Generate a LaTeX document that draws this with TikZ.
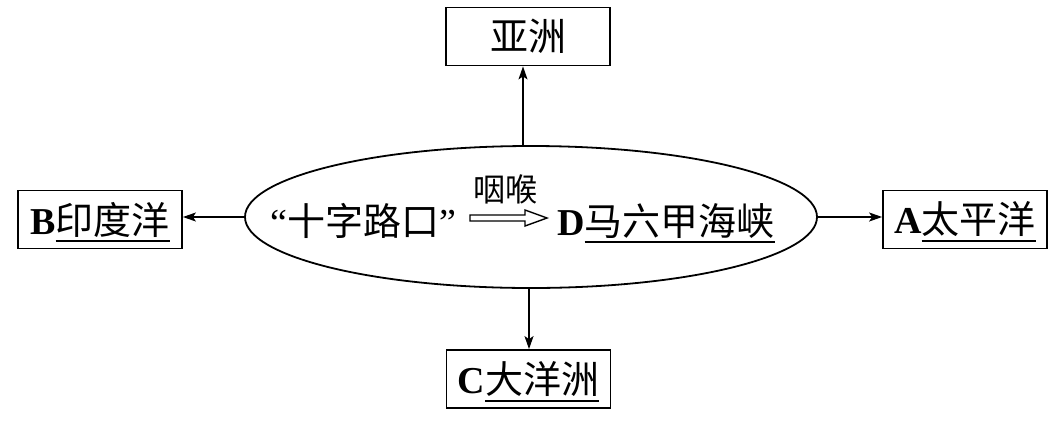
\documentclass[tikz,border=0pt]{standalone}
\usepackage{fontspec}
\setmainfont{Liberation Serif}
\newfontfamily\cjk{Noto Sans CJK SC}
\usetikzlibrary{shapes.geometric,arrows.meta}
\newcommand\myul[1]{\setbox0=\hbox{#1}\rlap{\raisebox{-8pt}[0pt][0pt]{\rule{\wd0}{1.6pt}}}\box0}
\newcommand\lat[1]{\textrm{\bfseries #1}}
\begin{document}
\begin{tikzpicture}[x=1pt,y={(0,-1pt)},
  box/.style={draw, line width=1.8pt, minimum width=164pt, minimum height=58pt, inner sep=0pt,
    font=\cjk\fontsize{38}{40}\selectfont},
  txt/.style={inner sep=0pt, font=\cjk\fontsize{38}{40}\selectfont},
  arr/.style={-{Stealth[length=13pt,width=9pt,inset=3pt]}, line width=1.3pt}]
\useasboundingbox (0,0) rectangle (1049,424);
\node[box] (asia) at (528,36.5) {亚洲};
\node[box] (indian) at (100,219.5) {\lat{B}\myul{印度洋}};
\node[box] (pacific) at (965,219.5) {\lat{A}\myul{太平洋}};
\node[box] (oceania) at (528.5,379) {\lat{C}\myul{大洋洲}};
\node[draw, ellipse, line width=1.8pt, minimum width=572pt, minimum height=142pt, inner sep=0pt] (ell) at (531,217) {};
\node[txt, anchor=base] (cross) at (363,235) {\textrm{“}十字路口\textrm{”}};
\node[txt, anchor=base, font=\cjk\fontsize{32}{34}\selectfont] (throat) at (505,201) {咽喉};
\node[txt, anchor=base west] (malacca) at (557,235) {\lat{D}\myul{马六甲海峡}};
\draw[line width=1.4pt, line join=miter] (470,215) -- (525,215) -- (525,210) -- (547,218) -- (525,226) -- (525,221) -- (470,221) -- cycle;
\coordinate (up0) at ([xshift=-8pt]ell.north);
\coordinate (dn0) at ([xshift=-2pt]ell.south);
\draw[arr] (ell.west) -- (ell.west -| indian.east);
\draw[arr] (ell.east) -- (ell.east -| pacific.west);
\draw[arr] (up0) -- (up0 |- asia.south);
\draw[arr] (dn0) -- (dn0 |- oceania.north);
\end{tikzpicture}
\end{document}
